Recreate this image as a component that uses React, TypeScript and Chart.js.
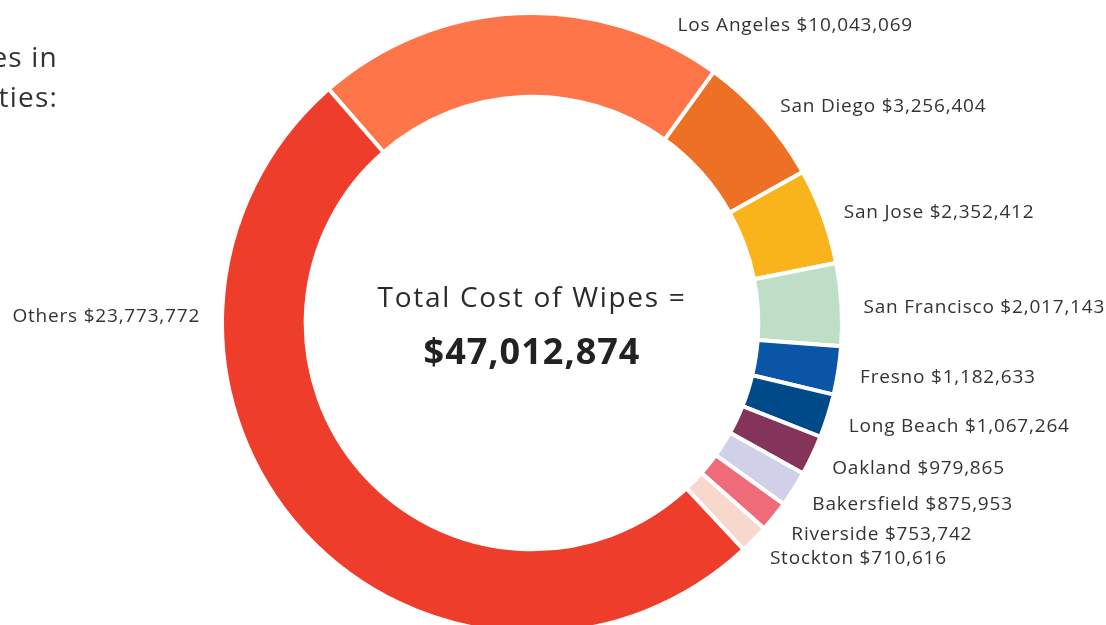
import React, { useEffect, useRef } from "react";
import { Chart, registerables } from "chart.js";

Chart.register(...registerables);

const cities = [
  "Los Angeles",
  "San Diego",
  "San Jose",
  "San Francisco",
  "Fresno",
  "Long Beach",
  "Oakland",
  "Bakersfield",
  "Riverside",
  "Stockton",
  "Others",
];
const costs = [
  10043069, 3256404, 2352412, 2017143, 1182633, 1067264, 979865, 875953, 753742, 710616,
  23773772,
];
const colors = [
  "#FF754A",
  "#EE7024",
  "#F8B41A",
  "#BFDEC8",
  "#0B55A6",
  "#004A8A",
  "#84335A",
  "#D0D0E8",
  "#F06B7A",
  "#F8D7CD",
  "#EE3E2B",
];
const totalLabel = "Total Cost of Wipes =";
const totalValue = "$47,012,874";

const FONT = '"Open Sans", "DejaVu Sans", sans-serif';
const fmt = (v: number) => "$" + v.toLocaleString("en-US");

const labelPlugin = {
  id: "sliceLabels",
  afterDatasetsDraw(chart: any) {
    const ctx = chart.ctx;
    const meta = chart.getDatasetMeta(0);
    ctx.save();
    ctx.fillStyle = "#333333";
    ctx.font = `19px ${FONT}`;
    ctx.letterSpacing = "0.8px";
    ctx.textBaseline = "middle";
    meta.data.forEach((arc: any, i: number) => {
      const n = meta.data.length;
      let a = (arc.startAngle + arc.endAngle) / 2;
      let dy = 4;
      // first slice label pushed clockwise, last (largest) label to the left
      if (i === 0) {
        a = -Math.PI / 2 + (26 * Math.PI) / 180;
        dy = 1;
      }
      if (i === n - 1) {
        a = Math.PI + 0.02;
        dy = 0;
      }
      const r = arc.outerRadius + 22;
      const x = arc.x + Math.cos(a) * r;
      const y = arc.y + Math.sin(a) * r + dy;
      ctx.textAlign = Math.cos(a) < -0.1 ? "right" : "left";
      ctx.fillText(`${cities[i]} ${fmt(costs[i])}`, x, y);
    });
    const cx = meta.data[0].x;
    const cy = meta.data[0].y;
    ctx.textAlign = "center";
    ctx.fillStyle = "#2a2a2a";
    ctx.font = `28px ${FONT}`;
    ctx.letterSpacing = "1.7px";
    ctx.fillText(totalLabel, cx, cy - 24);
    ctx.fillStyle = "#222222";
    ctx.font = `bold 36px ${FONT}`;
    ctx.letterSpacing = "1px";
    ctx.fillText(totalValue, cx, cy + 31);
    ctx.restore();
  },
};

export default function App() {
  const ref = useRef<HTMLCanvasElement | null>(null);
  useEffect(() => {
    if (!ref.current) return;
    const chart = new Chart(ref.current, {
      type: "doughnut",
      data: {
        labels: cities,
        datasets: [
          {
            data: costs,
            backgroundColor: colors,
            borderColor: "#ffffff",
            borderWidth: 4,
            clip: false,
          } as any,
        ],
      },
      options: {
        animation: false,
        responsive: false,
        rotation: -41,
        radius: 310,
        cutout: "73%",
        layout: { padding: { left: 0, right: 42, top: 21, bottom: 0 } },
        plugins: { legend: { display: false }, tooltip: { enabled: false } },
      } as any,
      plugins: [labelPlugin],
    });
    return () => chart.destroy();
  }, []);
  return (
    <div
      style={{
        position: "absolute",
        left: 0,
        top: 0,
        width: 1106,
        height: 625,
        overflow: "hidden",
        background: "#fff",
      }}
    >
      <div
        style={{
          position: "absolute",
          right: 1106 - 58,
          top: 36,
          fontFamily: FONT,
          fontSize: 28,
          letterSpacing: "1.2px",
          lineHeight: "40px",
          color: "#333",
          textAlign: "right",
          whiteSpace: "nowrap",
        }}
      >
        <div>es in</div>
        <div>ties:</div>
      </div>
      <canvas ref={ref} width={1106} height={625} style={{ display: "block" }} />
    </div>
  );
}
